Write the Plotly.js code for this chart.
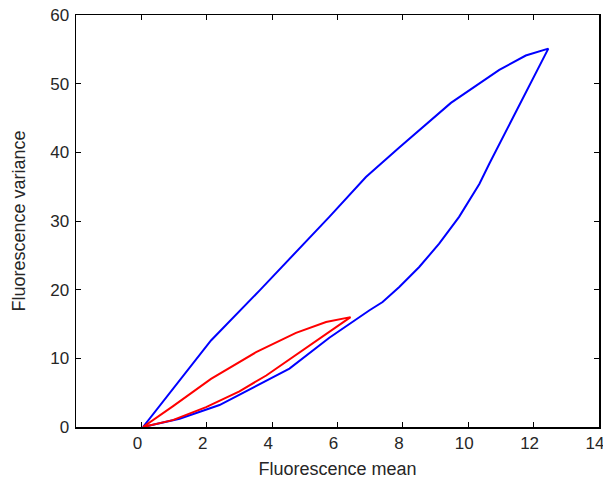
<!DOCTYPE html>
<html>
<head>
<meta charset="utf-8">
<script src="https://cdn.plot.ly/plotly-3.0.1.min.js"></script>
<style>html,body{margin:0;padding:0;background:#fff;}#chart{width:603px;height:481px;}</style>
</head>
<body>
<div id="chart"></div>
<script>
// Blue loop (mean, variance)
const blueX = [0.05, 2.13, 3.62, 5.75, 6.87, 7.89, 9.47, 10.95, 11.76, 12.45,
               10.64, 10.34, 9.72, 9.11, 8.50, 7.89, 7.38, 6.98, 5.75, 4.53, 2.39, 1.17, 0.05];
const blueY = [0.0, 12.6, 19.9, 30.6, 36.4, 40.7, 47.2, 52.0, 54.1, 55.1,
               38.3, 35.4, 30.6, 26.7, 23.3, 20.4, 18.2, 17.0, 13.0, 8.5, 3.2, 1.2, 0.0];
// Red loop
const redX = [0.05, 0.96, 2.13, 3.51, 4.73, 5.65, 6.40,
              5.00, 3.82, 3.00, 1.98, 0.96, 0.05];
const redY = [0.0, 3.0, 7.0, 10.9, 13.7, 15.3, 16.0,
              11.4, 7.5, 5.2, 2.9, 1.0, 0.0];

const xTicks = [0, 2, 4, 6, 8, 10, 12, 14];
const yTicks = [0, 10, 20, 30, 40, 50, 60];

const fam = 'Liberation Sans, Arial, sans-serif';
const tickFont = {family: fam, size: 17, color: '#262626'};
const titleFont = {family: fam, size: 18, color: '#262626'};

const traces = [
  {x: blueX, y: blueY, mode: 'lines', line: {color: '#0000ff', width: 2}, hoverinfo: 'none'},
  {x: redX, y: redY, mode: 'lines', line: {color: '#ff0000', width: 2}, hoverinfo: 'none'}
];

const layout = {
  width: 603, height: 481,
  margin: {l: 76, r: 4, t: 15, b: 54},
  showlegend: false,
  paper_bgcolor: '#fff', plot_bgcolor: '#fff',
  font: tickFont,
  xaxis: {
    range: [-2, 14.0001], tickvals: xTicks, ticktext: xTicks.map(String),
    showgrid: false, zeroline: false, showline: true, linecolor: '#000', linewidth: 1.5,
    mirror: 'ticks', ticks: 'inside', ticklen: 5, tickcolor: '#000', tickwidth: 1,
    tickfont: tickFont, ticklabeloverflow: 'allow', ticklabelshift: -4, ticklabelstandoff: 0,
    title: {text: 'Fluorescence mean', font: titleFont, standoff: 10}
  },
  yaxis: {
    range: [0, 60], tickvals: yTicks, ticktext: yTicks.map(String),
    showgrid: false, zeroline: false, showline: true, linecolor: '#000', linewidth: 1.5,
    mirror: 'ticks', ticks: 'inside', ticklen: 5, tickcolor: '#000', tickwidth: 1,
    tickfont: tickFont, ticklabelstandoff: 2,
    title: {text: 'Fluorescence variance', font: titleFont, standoff: 20}
  }
};

Plotly.newPlot('chart', traces, layout, {displayModeBar: false, staticPlot: true});
</script>
</body>
</html>
